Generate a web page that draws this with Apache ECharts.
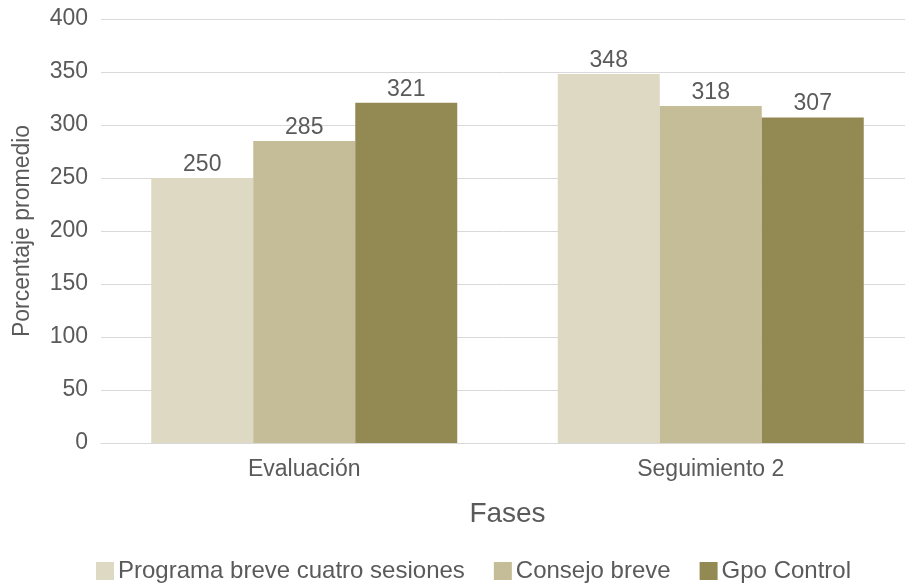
<!DOCTYPE html>
<html>
<head>
<meta charset="utf-8">
<script src="https://cdn.jsdelivr.net/npm/echarts@6/dist/echarts.min.js"></script>
<style>
html,body{margin:0;padding:0;background:#fff;}
#c{width:905px;height:583px;}
</style>
</head>
<body>
<div id="c"></div>
<script>
const categories = ["Evaluación", "Seguimiento 2"];
const seriesNames = ["Programa breve cuatro sesiones", "Consejo breve", "Gpo Control"];
const programaValues = [250, 348];
const consejoValues = [285, 318];
const controlValues = [321, 307];
const yTicks = [0, 50, 100, 150, 200, 250, 300, 350, 400];
const colors = ["#DDD9C3", "#C4BD97", "#938953"];

const FONT = '"Liberation Sans", Arial, sans-serif';
const TXT = '#5a5a5a';
const chart = echarts.init(document.getElementById('c'), null, {renderer: 'canvas'});
const seriesData = [programaValues, consejoValues, controlValues];

chart.setOption({
  animation: false,
  textStyle: {fontFamily: FONT},
  grid: {left: 101, top: 19, width: 813, height: 424, containLabel: false, outerBoundsMode: 'none'},
  legend: {
    left: 91, top: 554,
    itemWidth: 18, itemHeight: 18, itemGap: 29,
    icon: 'rect',
    textStyle: {fontFamily: FONT, fontSize: 24, color: TXT, padding: [0, 0, 0, -1]},
    data: seriesNames
  },
  xAxis: {
    type: 'category',
    data: categories,
    name: 'Fases',
    nameLocation: 'middle',
    nameGap: 57,
    nameTextStyle: {fontFamily: FONT, fontSize: 28, color: TXT},
    axisLine: {lineStyle: {color: '#D9D9D9', width: 1}},
    axisTick: {show: false},
    axisLabel: {fontFamily: FONT, fontSize: 23, color: TXT, margin: 15}
  },
  yAxis: {
    type: 'value',
    min: yTicks[0], max: yTicks[yTicks.length - 1], interval: yTicks[1] - yTicks[0],
    name: 'Porcentaje promedio',
    nameLocation: 'middle',
    nameGap: 67,
    nameTextStyle: {fontFamily: FONT, fontSize: 23, color: TXT},
    axisLine: {show: false},
    axisTick: {show: false},
    splitLine: {lineStyle: {color: '#D9D9D9', width: 1}},
    axisLabel: {fontFamily: FONT, fontSize: 23, color: TXT, margin: 13}
  },
  series: seriesNames.map((n, i) => ({
    name: n,
    type: 'bar',
    data: seriesData[i],
    barWidth: 102,
    barGap: '0%',
    itemStyle: {color: colors[i]},
    label: {show: true, position: 'top', distance: 2, fontFamily: FONT, fontSize: 23, color: TXT}
  }))
});
</script>
</body>
</html>
